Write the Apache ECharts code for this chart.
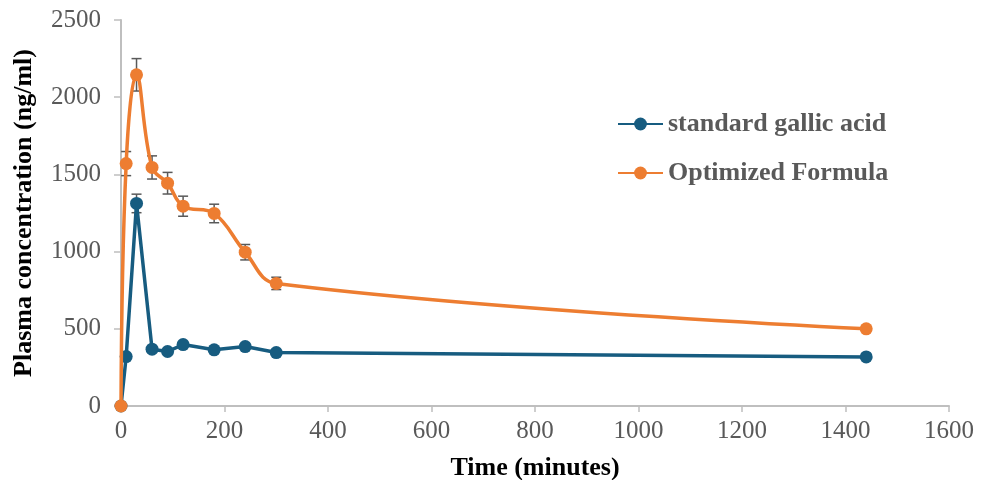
<!DOCTYPE html>
<html>
<head>
<meta charset="utf-8">
<script src="https://cdn.jsdelivr.net/npm/echarts@6/dist/echarts.min.js"></script>
<style>
  html, body { margin: 0; padding: 0; background: #fff; }
  #chart { width: 990px; height: 480px; }
</style>
</head>
<body>
<div id="chart"></div>
<script>
// time points (minutes)
var times = [0, 10, 30, 60, 90, 120, 180, 240, 300, 1440];
// plasma concentration (ng/ml)
var standardVals = [0, 320, 1312, 368, 353, 398, 364, 385, 346, 318];
var optimizedVals = [0, 1570, 2145, 1545, 1443, 1294, 1247, 996, 794, 500];
// error bars (+/-)
var standardErr = [0, 0, 60, 0, 0, 0, 0, 0, 0, 0];
var optimizedErr = [0, 78, 105, 75, 70, 65, 60, 50, 40, 0];

var seriesNames = ['standard gallic acid', 'Optimized Formula'];
var blue = '#175c80';
var orange = '#ed7d31';
var serif = '"Liberation Serif", "Times New Roman", serif';

function pairs(vals){
    var out = [];
    for(var i=0; i<times.length; i++){
        out.push([times[i], vals[i]]);
    }
    return out;
}

function errData(vals, errs){
    var out = [];
    for(var i=0; i<times.length; i++){
        if(errs[i] > 0){
            out.push([times[i], vals[i] - errs[i], vals[i] + errs[i]]);
        }
    }
    return out;
}

//误差线绘制
function renderErr(params, api){
    var x = api.value(0);
    var lo = api.coord([x, api.value(1)]);
    var hi = api.coord([x, api.value(2)]);
    var half = 5;
    var style = { stroke: '#595959', lineWidth: 1.5 };
    return {
        type: 'group',
        children: [
            { type: 'line', shape: { x1: lo[0], y1: lo[1], x2: hi[0], y2: hi[1] }, style: style },
            { type: 'line', shape: { x1: lo[0] - half, y1: lo[1], x2: lo[0] + half, y2: lo[1] }, style: style },
            { type: 'line', shape: { x1: hi[0] - half, y1: hi[1], x2: hi[0] + half, y2: hi[1] }, style: style }
        ]
    };
}

var chart = echarts.init(document.getElementById('chart'));
var option = {
    animation: false,
    grid: { left: 121, right: 41, top: 20, bottom: 74, containLabel: false, outerBoundsMode: 'none' },
    legend: {
        orient: 'vertical',
        left: 617,
        top: 111,
        padding: 0,
        itemGap: 23,
        itemWidth: 45,
        itemHeight: 16,
        data: seriesNames,
        textStyle: { fontFamily: serif, fontSize: 26, fontWeight: 'bold', color: '#595959' }
    },
    xAxis: {
        type: 'value',
        min: 0,
        max: 1600,
        interval: 200,
        name: 'Time (minutes)',
        nameLocation: 'middle',
        nameGap: 49,
        nameTextStyle: { fontFamily: serif, fontSize: 26, fontWeight: 'bold', color: '#000' },
        axisLine: { lineStyle: { color: '#bfbfbf', width: 2 } },
        axisTick: { show: true, length: 6, lineStyle: { color: '#bfbfbf', width: 1.5 } },
        axisLabel: { fontFamily: serif, fontSize: 25, color: '#595959', margin: 13, formatter: function(v){ return String(v); } },
        splitLine: { show: false }
    },
    yAxis: {
        type: 'value',
        min: 0,
        max: 2500,
        interval: 500,
        name: 'Plasma concentration (ng/ml)',
        nameLocation: 'middle',
        nameGap: 84,
        nameTextStyle: { fontFamily: serif, fontSize: 26, fontWeight: 'bold', color: '#000' },
        axisLine: { show: true, lineStyle: { color: '#bfbfbf', width: 2 } },
        axisTick: { show: true, length: 7, lineStyle: { color: '#bfbfbf', width: 1.5 } },
        axisLabel: { fontFamily: serif, fontSize: 25, color: '#595959', margin: 20, formatter: function(v){ return String(v); } },
        splitLine: { show: false }
    },
    series: [
        {
            name: 'errStandard',
            type: 'custom',
            renderItem: renderErr,
            data: errData(standardVals, standardErr),
            z: 1,
            silent: true
        },
        {
            name: 'errOptimized',
            type: 'custom',
            renderItem: renderErr,
            data: errData(optimizedVals, optimizedErr),
            z: 1,
            silent: true
        },
        {
            name: seriesNames[0],
            type: 'line',
            data: pairs(standardVals),
            symbol: 'circle',
            symbolSize: 13,
            lineStyle: { color: blue, width: 3.5 },
            itemStyle: { color: blue },
            z: 3
        },
        {
            name: seriesNames[1],
            type: 'line',
            data: pairs(optimizedVals),
            smooth: 0.4,
            symbol: 'circle',
            symbolSize: 13,
            lineStyle: { color: orange, width: 3.5 },
            itemStyle: { color: orange },
            z: 4
        }
    ]
};
chart.setOption(option);
</script>
</body>
</html>
